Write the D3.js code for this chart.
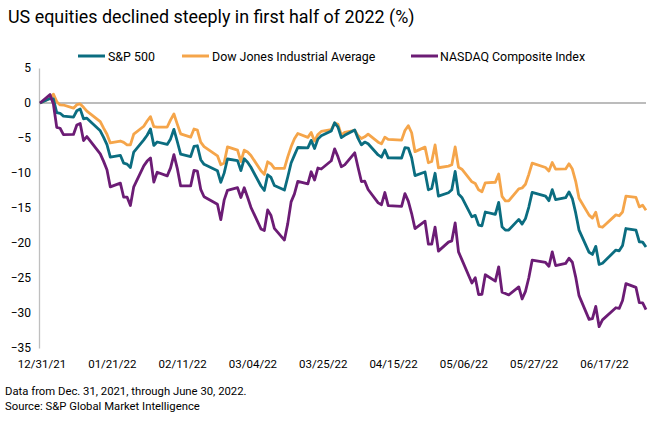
<!DOCTYPE html>
<html>
<head>
<meta charset="utf-8">
<script src="https://cdn.jsdelivr.net/npm/d3@7"></script>
<style>
  html, body { margin: 0; padding: 0; background: #fff; }
  svg text { font-family: Roboto, "Liberation Sans", Arial, sans-serif; fill: #000; }
</style>
</head>
<body>
<svg id="chart" width="660" height="421"></svg>
<script>
// ---- Data (percent change since Dec. 31, 2021) ----
const dates = [
  "2021-12-31",
  "2022-01-03","2022-01-04","2022-01-05","2022-01-06","2022-01-07","2022-01-10","2022-01-11","2022-01-12","2022-01-13","2022-01-14",
  "2022-01-18","2022-01-19","2022-01-20","2022-01-21","2022-01-24","2022-01-25","2022-01-26","2022-01-27","2022-01-28","2022-01-31",
  "2022-02-01","2022-02-02","2022-02-03","2022-02-04","2022-02-07","2022-02-08","2022-02-09","2022-02-10","2022-02-11","2022-02-14",
  "2022-02-15","2022-02-16","2022-02-17","2022-02-18","2022-02-22","2022-02-23","2022-02-24","2022-02-25","2022-02-28",
  "2022-03-01","2022-03-02","2022-03-03","2022-03-04","2022-03-07","2022-03-08","2022-03-09","2022-03-10","2022-03-11","2022-03-14",
  "2022-03-15","2022-03-16","2022-03-17","2022-03-18","2022-03-21","2022-03-22","2022-03-23","2022-03-24","2022-03-25","2022-03-28",
  "2022-03-29","2022-03-30","2022-03-31",
  "2022-04-01","2022-04-04","2022-04-05","2022-04-06","2022-04-07","2022-04-08","2022-04-11","2022-04-12","2022-04-13","2022-04-14",
  "2022-04-18","2022-04-19","2022-04-20","2022-04-21","2022-04-22","2022-04-25","2022-04-26","2022-04-27","2022-04-28","2022-04-29",
  "2022-05-02","2022-05-03","2022-05-04","2022-05-05","2022-05-06","2022-05-09","2022-05-10","2022-05-11","2022-05-12","2022-05-13",
  "2022-05-16","2022-05-17","2022-05-18","2022-05-19","2022-05-20","2022-05-23","2022-05-24","2022-05-25","2022-05-26","2022-05-27",
  "2022-05-31",
  "2022-06-01","2022-06-02","2022-06-03","2022-06-06","2022-06-07","2022-06-08","2022-06-09","2022-06-10","2022-06-13","2022-06-14",
  "2022-06-15","2022-06-16","2022-06-17","2022-06-21","2022-06-22","2022-06-23","2022-06-24","2022-06-27","2022-06-28","2022-06-29",
  "2022-06-30"
];

const sp500 = [
  0,
  0.64,0.57,-1.38,-1.47,-1.87,-2.01,-1.11,-0.84,-2.25,-2.17,
  -3.97,-4.90,-5.95,-7.73,-7.47,-8.60,-8.73,-9.22,-7.01,-5.26,
  -4.61,-3.71,-6.06,-5.57,-5.92,-5.13,-3.76,-5.50,-7.29,-7.65,
  -6.19,-6.11,-8.10,-8.76,-9.68,-11.34,-10.02,-8.00,-8.23,
  -9.65,-7.97,-8.45,-9.18,-11.86,-12.49,-10.25,-10.63,-11.79,-12.44,
  -10.57,-8.57,-7.44,-6.36,-6.40,-5.34,-6.50,-5.16,-4.68,-4.00,
  -2.82,-3.44,-4.95,
  -4.62,-3.85,-5.06,-5.98,-5.58,-5.83,-7.42,-7.74,-6.71,-7.84,
  -7.86,-6.38,-6.44,-7.82,-10.37,-9.86,-12.40,-12.22,-10.04,-13.31,
  -12.82,-12.39,-9.78,-12.99,-13.49,-16.26,-16.05,-17.44,-17.54,-15.57,
  -15.91,-14.21,-17.68,-18.16,-18.14,-16.63,-17.30,-16.52,-14.86,-12.76,
  -13.30,
  -13.95,-12.37,-13.80,-13.53,-12.70,-13.65,-15.70,-18.16,-21.33,-21.63,
  -20.48,-23.07,-22.90,-21.01,-21.11,-20.36,-17.93,-18.17,-19.82,-19.88,
  -20.58
];

const dowJones = [
  0,
  0.68,1.27,0.19,-0.28,-0.29,-0.74,-0.24,-0.13,-0.62,-1.17,
  -2.67,-3.60,-4.47,-5.70,-5.43,-5.62,-5.97,-5.99,-4.44,-3.32,
  -2.57,-1.95,-3.38,-3.44,-3.43,-2.41,-1.57,-3.02,-4.40,-4.88,
  -3.71,-3.86,-5.58,-6.22,-7.54,-8.82,-8.57,-6.27,-6.73,
  -8.38,-6.73,-7.00,-7.49,-9.69,-10.20,-8.40,-8.71,-9.34,-9.34,
  -7.69,-6.26,-5.11,-4.36,-4.91,-4.21,-5.45,-4.49,-4.06,-3.80,
  -2.87,-3.05,-4.57,
  -4.18,-3.90,-4.67,-5.07,-4.83,-4.45,-5.59,-5.83,-4.88,-5.19,
  -5.30,-3.93,-3.24,-4.25,-6.95,-6.30,-8.53,-8.36,-5.99,-9.25,
  -9.02,-8.83,-6.27,-9.19,-9.46,-11.26,-11.50,-12.40,-12.68,-11.40,
  -11.32,-10.14,-13.34,-13.99,-13.97,-12.27,-12.14,-11.61,-10.19,-8.60,
  -9.21,
  -9.70,-8.50,-9.46,-9.42,-8.69,-9.43,-11.19,-13.61,-16.02,-16.44,
  -15.60,-17.64,-17.75,-15.98,-16.11,-15.58,-13.31,-13.48,-14.84,-14.61,
  -15.31
];

const nasdaq = [
  0,
  1.20,-0.14,-3.48,-3.61,-4.53,-4.49,-3.14,-2.92,-5.36,-4.80,
  -7.27,-8.34,-9.53,-11.99,-11.44,-13.46,-13.44,-14.65,-11.98,-8.98,
  -8.30,-7.85,-11.29,-9.89,-10.41,-9.27,-7.38,-9.33,-11.85,-11.85,
  -9.62,-9.72,-12.33,-13.40,-14.47,-16.67,-13.88,-12.47,-12.10,
  -13.50,-12.10,-13.47,-14.90,-17.99,-18.21,-15.27,-16.08,-17.90,-19.58,
  -17.23,-14.12,-12.98,-11.19,-11.55,-9.82,-11.01,-9.29,-9.43,-8.25,
  -6.55,-7.69,-9.10,
  -8.84,-7.11,-9.21,-11.22,-11.17,-12.36,-14.27,-14.53,-12.79,-14.66,
  -14.78,-12.95,-14.01,-15.79,-17.93,-16.88,-20.16,-20.17,-17.73,-21.16,
  -19.87,-19.69,-17.13,-21.27,-22.37,-25.71,-24.97,-27.36,-27.32,-24.54,
  -25.45,-23.40,-27.02,-27.21,-27.42,-26.27,-28.00,-26.91,-24.96,-22.46,
  -22.78,
  -23.33,-21.27,-23.22,-22.91,-22.18,-22.75,-24.87,-27.52,-30.91,-30.79,
  -29.06,-31.95,-30.98,-29.25,-29.35,-28.21,-25.81,-26.34,-28.53,-28.55,
  -29.51
];

const seriesNames = ["S&P 500", "Dow Jones Industrial Average", "NASDAQ Composite Index"];
const seriesColors = ["#0b6d80", "#f5a54a", "#6c1c75"];
const xTickLabels = ["12/31/21","01/21/22","02/11/22","03/04/22","03/25/22","04/15/22","05/06/22","05/27/22","06/17/22"];
const yTicks = [5, 0, -5, -10, -15, -20, -25, -30, -35];

const titleText = "US equities declined steeply in first half of 2022 (%)";
const footnotes = ["Data from Dec. 31, 2021, through June 30, 2022.", "Source: S&P Global Market Intelligence"];

// ---- Drawing ----
const parse = d3.timeParse("%Y-%m-%d");
const parseTick = d3.timeParse("%m/%d/%y");
const fmt = d3.timeFormat("%m/%d/%y");
const svg = d3.select("#chart");

const x = d3.scaleTime()
  .domain([parse(dates[0]), parse(dates[dates.length - 1])])
  .range([40, 646]);
const y = d3.scaleLinear().domain([-35, 5]).range([348, 68]);

// Title
svg.append("text").attr("x", 8).attr("y", 23)
  .style("font-size", "17.9px").text(titleText);

// Legend
const legendPos = [{lx: 78, tx: 108}, {lx: 182, tx: 212}, {lx: 411, tx: 440}];
seriesNames.forEach((name, i) => {
  const g = svg.append("g");
  g.append("line").attr("x1", legendPos[i].lx).attr("x2", legendPos[i].lx + 27)
    .attr("y1", 56).attr("y2", 56)
    .attr("stroke", seriesColors[i]).attr("stroke-width", 3);
  g.append("text").attr("x", legendPos[i].tx).attr("y", 60.5)
    .style("font-size", "12.4px").text(name);
});

// Y axis
const yAxis = svg.append("g").attr("transform", "translate(39,0)")
  .call(d3.axisLeft(y).tickValues(yTicks).tickSize(0).tickPadding(8).tickFormat(d3.format("d")));
yAxis.select(".domain").attr("stroke", "#bfbfbf").attr("stroke-width", 1.3);
yAxis.selectAll("text").style("font-size", "12px").style("font-family", "Roboto, Arial, sans-serif").attr("fill", "#000");

// Zero line (category axis)
svg.append("line").attr("x1", 39).attr("x2", 646).attr("y1", y(0)).attr("y2", y(0))
  .attr("stroke", "#a6a6a6").attr("stroke-width", 1.3);

// X axis labels
const xAxis = svg.append("g").attr("transform", "translate(1.5,356)")
  .call(d3.axisBottom(x).tickValues(xTickLabels.map(parseTick)).tickSize(0).tickPadding(4).tickFormat(fmt));
xAxis.select(".domain").remove();
xAxis.selectAll("text").style("font-size", "11.5px").style("font-family", "Roboto, Arial, sans-serif").attr("fill", "#000");

// Lines
const allSeries = [sp500, dowJones, nasdaq];
const line = d3.line().x((d, i) => x(parse(dates[i]))).y(d => y(d));
[1, 0, 2].forEach(i => {
  svg.append("path").datum(allSeries[i])
    .attr("fill", "none").attr("stroke", seriesColors[i])
    .attr("stroke-width", 2.8).attr("stroke-linejoin", "round")
    .attr("d", line);
});

// Footnotes
footnotes.forEach((t, i) => {
  svg.append("text").attr("x", 5).attr("y", 395 + i * 14.5)
    .style("font-size", "11.3px").text(t);
});
</script>
</body>
</html>
